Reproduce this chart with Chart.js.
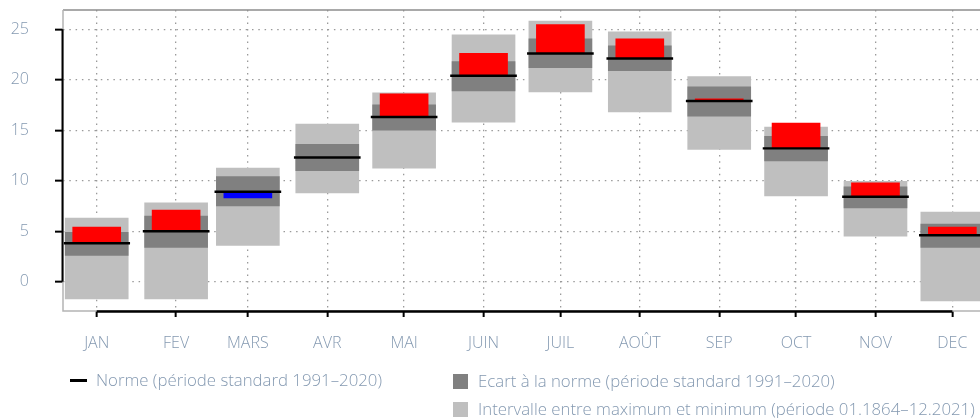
<!DOCTYPE html>
<html>
<head>
<meta charset="utf-8">
<script src="https://cdn.jsdelivr.net/npm/chart.js@4/dist/chart.umd.min.js"></script>
<style>
	body { margin: 0; background: #fff; }
	#wrap { position: relative; width: 980px; height: 418px; font-family: "Open Sans", sans-serif; font-weight: 300; color: #8499b1; }
	.lg { position: absolute; font-size: 16.8px; line-height: 20px; white-space: nowrap; }
	.sw { position: absolute; }
</style>
</head>
<body>
<div id="wrap">
	<canvas id="chart" width="980" height="418"></canvas>
	<div class="sw" style="left:70px;top:379px;width:17px;height:3px;background:#000"></div>
	<div class="lg" style="left:96px;top:370px">Norme (période standard 1991–2020)</div>
	<div class="sw" style="left:453px;top:374px;width:15px;height:15px;background:#808080"></div>
	<div class="lg" style="left:478px;top:371px">Ecart à la norme (période standard 1991–2020)</div>
	<div class="sw" style="left:453px;top:402px;width:15px;height:15px;background:#bfbfbf"></div>
	<div class="lg" style="left:478px;top:399px">Intervalle entre maximum et minimum (période 01.1864–12.2021)</div>
</div>
<script>
// mois et position (jour de l'annee)
var months = ["JAN", "FEV", "MARS", "AVR", "MAI", "JUIN", "JUIL", "AOÛT", "SEP", "OCT", "NOV", "DEC"];
var monthDays = [15, 46, 74, 105, 135, 166, 196, 227, 258, 288, 319, 349];
var yTicks = [0, 5, 10, 15, 20, 25];

// temperatures mensuelles
var norme    = [3.8, 5.0, 8.9, 12.3, 16.3, 20.4, 22.6, 22.1, 17.9, 13.2, 8.4, 4.6];
var ecartBas = [2.6, 3.4, 7.5, 11.0, 15.0, 18.9, 21.2, 20.9, 16.4, 11.95, 7.3, 3.4];
var ecartHaut= [4.9, 6.5, 10.4, 13.6, 17.5, 21.8, 24.05, 23.35, 19.3, 14.4, 9.4, 5.7];
var minimum  = [-1.7, -1.7, 3.6, 8.8, 11.25, 15.8, 18.8, 16.8, 13.1, 8.5, 4.5, -1.9];
var maximum  = [6.3, 7.8, 11.25, 15.6, 18.7, 24.45, 25.8, 24.75, 20.3, 15.3, 9.95, 6.9];
var mesure   = [5.4, 7.1, 8.3, null, 18.6, 22.6, 25.45, 24.05, 18.1, 15.7, 9.8, 5.4];

var normLine = [], anomaly = [], anomalyColor = [], ecart = [], range = [];
for (var i = 0; i < months.length; i++) {
	normLine.push({ x: monthDays[i], y: [norme[i] - 0.09, norme[i] + 0.09] });
	anomaly.push({ x: monthDays[i], y: mesure[i] === null ? null : [norme[i], mesure[i]] });
	anomalyColor.push(mesure[i] !== null && mesure[i] < norme[i] ? "#0000ff" : "#ff0000");
	ecart.push({ x: monthDays[i], y: [ecartBas[i], ecartHaut[i]] });
	range.push({ x: monthDays[i], y: [minimum[i], maximum[i]] });
}

var frame = {
	id: "frame",
	afterDatasetsDraw: function(chart) {
		var c = chart.ctx, a = chart.chartArea;
		var xs = chart.scales.x, ys = chart.scales.y;
		c.save();
		c.lineWidth = 1.5;
		c.strokeStyle = "#8c8c8c";
		c.beginPath(); c.moveTo(a.left, a.top); c.lineTo(a.right, a.top); c.stroke();
		c.strokeStyle = "#b4b4b4";
		c.beginPath(); c.moveTo(a.left, a.top); c.lineTo(a.left, a.bottom); c.lineTo(a.right, a.bottom); c.stroke();
		c.strokeStyle = "#000";
		c.lineWidth = 2;
		c.beginPath();
		c.moveTo(a.left - 0.5, ys.getPixelForValue(yTicks[0]));
		c.lineTo(a.left - 0.5, ys.getPixelForValue(yTicks[yTicks.length - 1]));
		c.stroke();
		c.lineWidth = 2.5;
		c.beginPath();
		c.moveTo(xs.getPixelForValue(monthDays[0]), a.bottom + 0.5);
		c.lineTo(xs.getPixelForValue(monthDays[monthDays.length - 1]), a.bottom + 0.5);
		c.stroke();
		c.restore();
	}
};

var gridStyle = {
	color: "#9a9a9a",
	lineWidth: 1.3,
	offset: false,
	tickColor: "#000",
	tickWidth: 2,
	tickBorderDash: []
};

var chart = new Chart(document.getElementById("chart"), {
	type: "bar",
	data: {
		datasets: [
			{ label: "Norme", data: normLine, backgroundColor: "#000", barThickness: 66, grouped: false },
			{ label: "Mesure", data: anomaly, backgroundColor: anomalyColor, barThickness: 48, grouped: false },
			{ label: "Ecart", data: ecart, backgroundColor: "#808080", barThickness: 63, grouped: false },
			{ label: "Intervalle", data: range, backgroundColor: "#bfbfbf", barThickness: 63, grouped: false }
		]
	},
	options: {
		responsive: false,
		animation: false,
		layout: { padding: { top: 10, bottom: 57, left: 0, right: 0 } },
		plugins: { legend: { display: false }, tooltip: { enabled: false } },
		scales: {
			x: {
				type: "linear",
				offset: false,
				min: 1.84,
				max: 359.8,
				afterBuildTicks: function(scale) {
					scale.ticks = monthDays.map(function(d) { return { value: d }; });
				},
				afterFit: function(scale) {
					scale.height = 50;
					scale.paddingLeft = 0;
					scale.paddingRight = 0;
				},
				ticks: {
					autoSkip: false,
					maxRotation: 0,
					padding: 17,
					color: "#8499b1",
					font: { family: "Open Sans", size: 16, weight: 300 },
					callback: function(v, idx) { return months[idx]; }
				},
				grid: Object.assign({ tickLength: 6 }, gridStyle),
				border: { display: false, dash: [1.5, 4.8] }
			},
			y: {
				min: -2.9,
				max: 26.9,
				afterBuildTicks: function(scale) {
					scale.ticks = yTicks.map(function(v) { return { value: v }; });
				},
				afterFit: function(scale) {
					scale.width = 63;
					scale.paddingTop = 0;
					scale.paddingBottom = 0;
				},
				ticks: {
					padding: 26,
					color: "#8499b1",
					font: { family: "Open Sans", size: 16, weight: 300 }
				},
				grid: Object.assign({ tickLength: 8 }, gridStyle),
				border: { display: false, dash: [1.5, 4.8] }
			}
		}
	},
	plugins: [frame]
});
</script>
</body>
</html>
